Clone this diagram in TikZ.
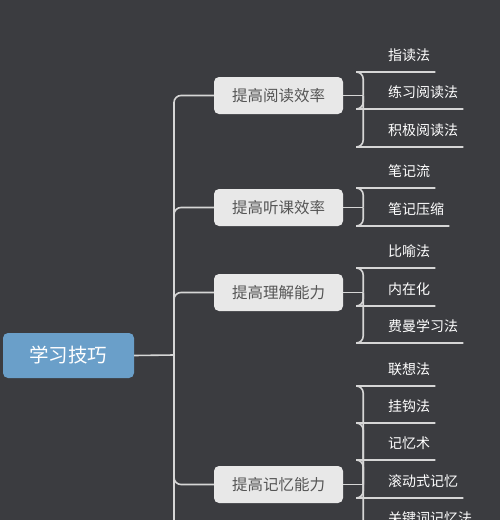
\documentclass[tikz,border=0pt]{standalone}
\usepackage{fontspec}
\newfontfamily\cjk{Noto Sans CJK SC}
\definecolor{bg}{HTML}{3B3C40}
\definecolor{linegray}{HTML}{D6D6D6}
\definecolor{rootblue}{HTML}{6A9FC9}
\definecolor{topicgray}{HTML}{E8E8E8}
\definecolor{topictext}{HTML}{555555}

\begin{document}
\begin{tikzpicture}[x=1pt, y=-1pt,
  root/.style={fill=rootblue, rounded corners=5pt, minimum width=131pt, minimum height=45pt, text=white, font=\cjk\fontsize{19.5}{20}\selectfont},
  topic/.style={fill=topicgray, rounded corners=5pt, minimum width=129pt, minimum height=37pt, text=topictext, font=\cjk\fontsize{15.5}{16}\selectfont},
  leaf/.style={anchor=west, inner sep=0pt, text=white, font=\cjk\fontsize{14}{14}\selectfont},
  link/.style={draw=linegray, line width=1.6pt, rounded corners=7pt}]
  \useasboundingbox (0,0) rectangle (500,520);
  \fill[bg] (0,0) rectangle (500,520);
  \clip (0,0) rectangle (500,520);

  \node[root] (skill) at (68.5,355.5) {学习技巧};

  \node[topic] (read) at (278.5,95.5) {提高阅读效率};
  \node[topic] (listen) at (278.5,207.5) {提高听课效率};
  \node[topic] (grasp) at (278.5,292.5) {提高理解能力};
  \node[topic] (memory) at (278.5,484.5) {提高记忆能力};

  \coordinate (trunk) at (174,355);
  \coordinate (trunkend) at (174,540);
  \draw[link] (skill.east) -- (trunk);
  \draw[link] (trunk) -- (trunkend);
  \foreach \t in {read,listen,grasp,memory}
    \draw[link] (trunk) |- (\t.west);

  \node[leaf] (r1) at (388,55.5) {指读法};
  \node[leaf] (r2) at (388,92.5) {练习阅读法};
  \node[leaf] (r3) at (388,130.5) {积极阅读法};
  \node[leaf] (l1) at (388,171.5) {笔记流};
  \node[leaf] (l2) at (388,209.5) {笔记压缩};
  \node[leaf] (g1) at (388,251.5) {比喻法};
  \node[leaf] (g2) at (388,289.5) {内在化};
  \node[leaf] (g3) at (388,326.5) {费曼学习法};
  \node[leaf] (m1) at (388,369.5) {联想法};
  \node[leaf] (m2) at (388,406.5) {挂钩法};
  \node[leaf] (m3) at (388,443.5) {记忆术};
  \node[leaf] (m4) at (388,481.5) {滚动式记忆};
  \node[leaf] (m5) at (388,518.5) {关键词记忆法};

  \foreach \t/\kids in {read/{r1,r2,r3}, listen/{l1,l2}, grasp/{g1,g2,g3}, memory/{m1,m2,m3,m4,m5}} {
    \coordinate (\t-fork) at ([xshift=20pt]\t.east);
    \draw[link] (\t.east) -- (\t-fork);
    \foreach \k in \kids
      \draw[link] (\t-fork) |- ([shift={(-25,16.5)}]\k.west) -- ([shift={(5,16.5)}]\k.east);
  }
\end{tikzpicture}
\end{document}
